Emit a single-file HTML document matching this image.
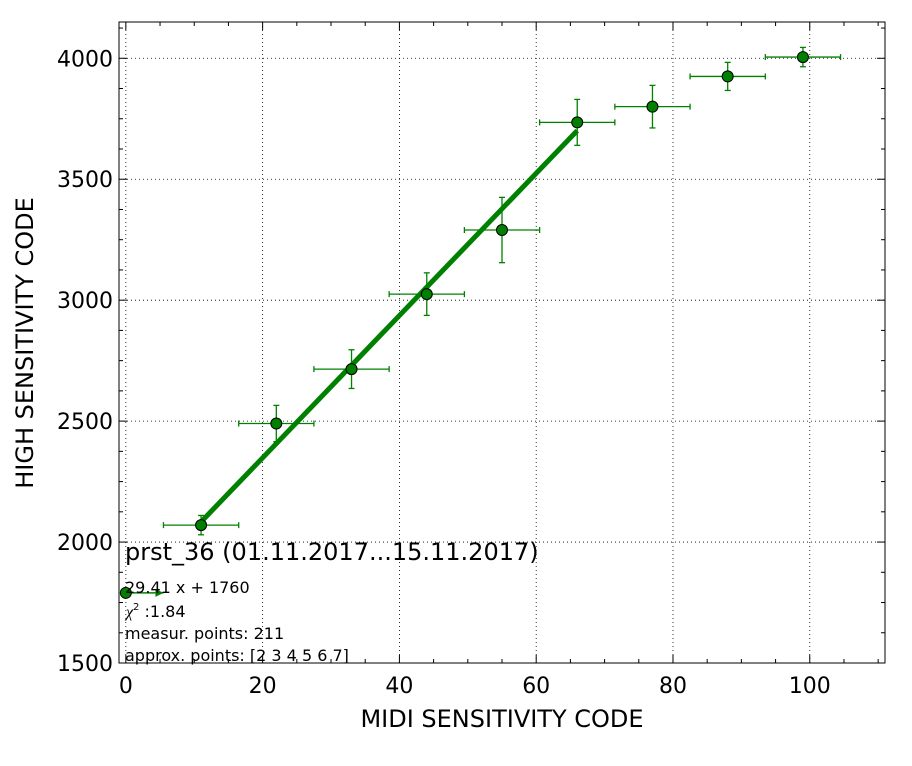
<!DOCTYPE html>
<html><head><meta charset="utf-8"><style>
body{margin:0;background:#fff;font-family:"DejaVu Sans","Liberation Sans",sans-serif}
svg text{font-family:"DejaVu Sans","Liberation Sans",sans-serif}
</style></head><body>
<svg id="chart" width="912" height="762" xmlns="http://www.w3.org/2000/svg"></svg>
<script>
const xs=[0,11,22,33,44,55,66,77,88,99];
const ys=[1790,2070,2490,2715,3025,3290,3735,3800,3925,4005];
const yErr=[0,40,75,80,88,135,95,88,58,40];
const xErr=[0,5.5,5.5,5.5,5.5,5.5,5.5,5.5,5.5,5.5];
const xTicks=[0,20,40,60,80,100];
const yTicks=[1500,2000,2500,3000,3500,4000];
const fitSlope=29.41, fitIntercept=1760;
const fitRange=[11,66];
const X0=-1,X1=111,Y0=1500,Y1=4150;
const L=119,R=885,T=22,B=663;
const sx=v=>L+(v-X0)/(X1-X0)*(R-L);
const sy=v=>B-(v-Y0)/(Y1-Y0)*(B-T);
const svg=document.getElementById('chart');
const NS='http://www.w3.org/2000/svg';
function mk(tag,attrs,parent){const e=document.createElementNS(NS,tag);for(const k in attrs)e.setAttribute(k,attrs[k]);(parent||svg).appendChild(e);return e;}
const G='#008000';
xTicks.forEach(v=>{const l=mk('line',{x1:sx(v),x2:sx(v),y1:T,y2:B,stroke:'#000','stroke-width':0.8,'stroke-dasharray':'1,3'});

});
yTicks.forEach(v=>{const l=mk('line',{x1:L,x2:R,y1:sy(v),y2:sy(v),stroke:'#000','stroke-width':0.8,'stroke-dasharray':'1,3'});

});
for(let v=0;v<=110;v+=5){const big=v%20===0,len=big?8:4;
const a=mk('line',{x1:sx(v),x2:sx(v),y1:B,y2:B-len,stroke:'#000'});
const b=mk('line',{x1:sx(v),x2:sx(v),y1:T,y2:T+len,stroke:'#000'});}
for(let v=1500;v<=4150;v+=125){const big=v%500===0,len=big?8:4;
const a=mk('line',{x1:L,x2:L+len,y1:sy(v),y2:sy(v),stroke:'#000'});
const b=mk('line',{x1:R,x2:R-len,y1:sy(v),y2:sy(v),stroke:'#000'});}
xTicks.forEach(v=>{const t=mk('text',{x:sx(v),y:B+30,'text-anchor':'middle','font-size':22});t.textContent=v;

});
yTicks.forEach(v=>{const t=mk('text',{x:L-6,y:sy(v)+8,'text-anchor':'end','font-size':22});t.textContent=v;

});
const fl=mk('line',{x1:sx(fitRange[0]),y1:sy(fitSlope*fitRange[0]+fitIntercept),x2:sx(fitRange[1]),y2:sy(fitSlope*fitRange[1]+fitIntercept),stroke:G,'stroke-width':5});


xs.forEach((x,i)=>{const y=ys[i];
if(xErr[i]>0){
const h=mk('line',{x1:sx(x-xErr[i]),x2:sx(x+xErr[i]),y1:sy(y),y2:sy(y),stroke:G,'stroke-width':1.3});
[x-xErr[i],x+xErr[i]].forEach(c=>{mk('line',{x1:sx(c),x2:sx(c),y1:sy(y)-3,y2:sy(y)+3,stroke:G,'stroke-width':1.3});});
const v=mk('line',{x1:sx(x),x2:sx(x),y1:sy(y-yErr[i]),y2:sy(y+yErr[i]),stroke:G,'stroke-width':1.3});
[y-yErr[i],y+yErr[i]].forEach(c=>{mk('line',{x1:sx(x)-3,x2:sx(x)+3,y1:sy(c),y2:sy(c),stroke:G,'stroke-width':1.3});});
}else{
const a=mk('line',{x1:sx(x),x2:sx(x+5.5),y1:sy(y),y2:sy(y),stroke:G,'stroke-width':1.5});
mk('polygon',{points:`${sx(x+5.5)},${sy(y)} ${sx(x+5.5)-8},${sy(y)-4} ${sx(x+5.5)-8},${sy(y)+4}`,fill:G});}
const c=mk('circle',{cx:sx(x),cy:sy(y),r:5.5,fill:G,stroke:'#000','stroke-width':1});

});
const fr=mk('rect',{x:L,y:T,width:R-L,height:B-T,fill:'none',stroke:'#000','stroke-width':1});


function txt(s,x,y,size,name,extra){const t=mk('text',Object.assign({x:x,y:y,'font-size':size},extra||{}));t.textContent=s;return t;}
txt('prst_36 (01.11.2017...15.11.2017)',125,560,24,'annotation-title');
txt('29.41 x + 1760',125,593,16,'fit-equation');
const chi=mk('text',{x:126,y:617,'font-size':16});chi.innerHTML='<tspan font-style="italic" font-family="Liberation Serif">χ</tspan><tspan font-size="10" dy="-7">2</tspan><tspan dy="7"> :1.84</tspan>';


txt('measur. points: 211',125,639,16,'measured-points');
txt('approx. points: [2 3 4 5 6 7]',125,661,16,'approx-points');
txt('MIDI SENSITIVITY CODE',502,727,24,'x-axis-title',{'text-anchor':'middle'});
txt('HIGH SENSITIVITY CODE',33,343,24,'y-axis-title',{'text-anchor':'middle',transform:'rotate(-90 33 343)'});
</script>
</body></html>
